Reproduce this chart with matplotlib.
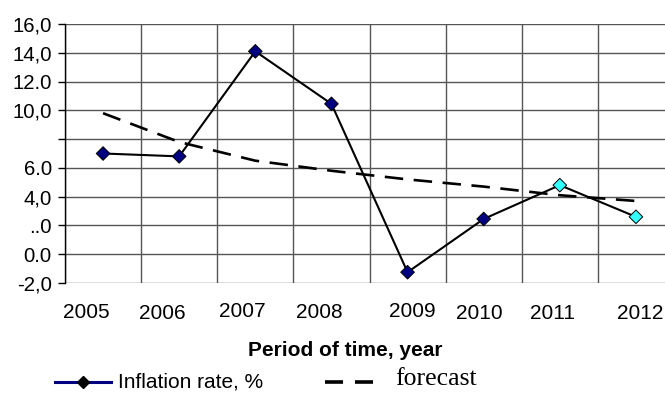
import matplotlib
matplotlib.use("Agg")
import matplotlib.pyplot as plt
from matplotlib.lines import Line2D
from matplotlib.transforms import ScaledTranslation

years = ["2005", "2006", "2007", "2008", "2009", "2010", "2011", "2012"]
inflation = [7.0, 6.8, 14.1, 10.45, -1.25, 2.45, 4.8, 2.6]
forecast = [9.8, 7.8, 6.5, 5.8, 5.2, 4.7, 4.1, 3.7]
marker_colors = ["#000080"] * 6 + ["#33FFFF"] * 2
ytick_values = [16, 14, 12, 10, 8, 6, 4, 2, 0, -2]
ytick_labels = ["16,0", "14,0", "12.0", "10,0", "", "6.0", "4,0", "..0", "0.0", "-2,0"]
# per-label pixel offsets of the x tick labels (dx right, dy down)
xlabel_offsets = [(-17, 0), (-17, 1.0), (-13, -0.7), (-12, 0), (5, -0.7), (-4, 0.8), (-7, 0.8), (4, 0.8)]

W, H = 665, 394
fig = plt.figure(figsize=(W / 100, H / 100), dpi=100)
ax = fig.add_axes([65 / W, 111 / H, 609 / W, 259 / H])

x = list(range(len(years)))
ax.set_xlim(-0.5, len(years) - 0.5)
ax.set_ylim(-2, 16)

# grid
for v in ytick_values:
    ax.axhline(v, color="#555555", lw=1.0, zorder=1)
for k in range(len(years) + 1):
    ax.axvline(k - 0.5, color="#555555", lw=1.0, zorder=1)

ax.plot(x, forecast, color="black", lw=1.9, linestyle=(0, (7.0, 4.0)), zorder=2)
ax.plot(x, inflation, color="black", lw=1.5, zorder=3)
ax.scatter(x, inflation, marker="D", s=48, c=marker_colors, edgecolors="black",
           linewidths=0.7, zorder=4)

for s in ["top", "right", "bottom"]:
    ax.spines[s].set_visible(False)
ax.spines["left"].set_color("black")
ax.spines["left"].set_linewidth(1.0)

font = "Liberation Sans"
fs = 15
ax.set_yticks(ytick_values)
ax.set_yticklabels(ytick_labels, fontsize=fs - 0.3, fontfamily=font)
ax.tick_params(axis="y", length=5, width=1, pad=4.5, color="black")

ax.set_xticks(x)
ax.set_xticklabels(years, fontsize=fs, fontfamily=font)
ax.tick_params(axis="x", length=0, pad=14.5)
for lab, (dx, dy) in zip(ax.get_xticklabels(), xlabel_offsets):
    lab.set_transform(lab.get_transform() + ScaledTranslation(dx / 100, -dy / 100, fig.dpi_scale_trans))

fig.text(345 / W, 1 - 350 / H, "Period of time, year", fontsize=fs, fontweight="bold",
         fontfamily=font, ha="center", va="center")

# legend (manual)
ly = 1 - 382 / H
fig.add_artist(Line2D([55 / W, 111 / W], [ly, ly], color="#000080", lw=2.2,
                      transform=fig.transFigure))
fig.add_artist(Line2D([83 / W], [ly], marker="D", color="black", markersize=6,
                      transform=fig.transFigure))
fig.text(118 / W, ly, "Inflation rate, %", fontsize=fs, fontfamily=font,
         ha="left", va="center")
fig.add_artist(Line2D([325 / W, 375 / W], [ly, ly], color="black", lw=2.6,
                      linestyle=(0, (5.0, 3.3)), transform=fig.transFigure))
fig.text(395 / W, ly + 0.008, "forecast", fontsize=18.5, fontfamily="Liberation Serif",
         ha="left", va="center")

fig.savefig("out.png", dpi=100)
